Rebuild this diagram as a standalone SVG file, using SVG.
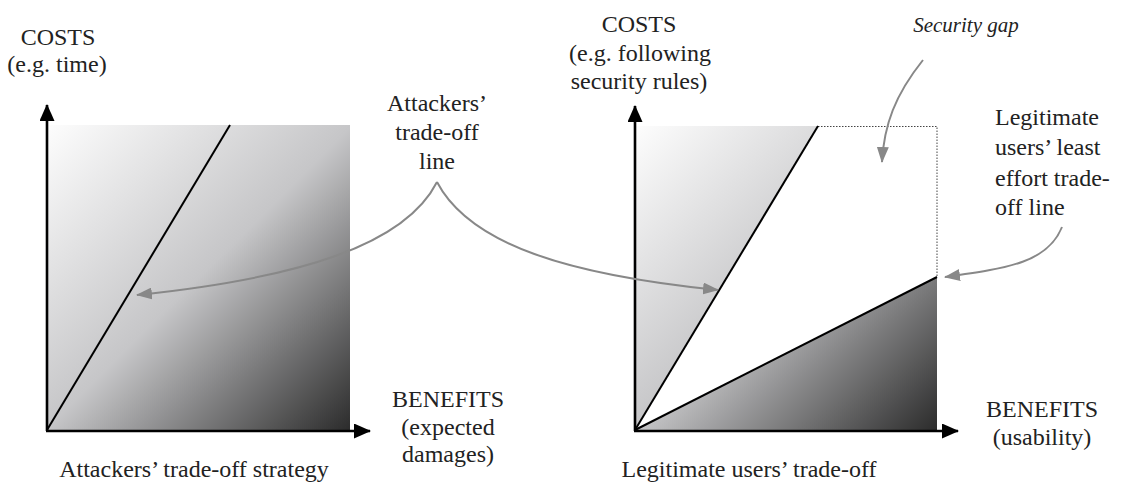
<svg xmlns="http://www.w3.org/2000/svg" width="1125" height="485" viewBox="0 0 1125 485">
<style>
text{font-family:"Liberation Serif","Times New Roman",serif;font-size:24px;fill:#222;}
.c{text-anchor:middle;}
.it{font-style:italic;font-size:21px;}
.axis{stroke:#000;stroke-width:2.6;fill:none;}
.tl{stroke:#000;stroke-width:2;fill:none;}
.dot{stroke:#444;stroke-width:1;stroke-dasharray:1.5 1.5;fill:none;}
.gc{stroke:#888;stroke-width:2;fill:none;marker-end:url(#ga);}
</style>
<defs>
<linearGradient id="g1" gradientUnits="userSpaceOnUse" x1="48" y1="125" x2="350" y2="430">
<stop offset="0" stop-color="#fdfdfd"/>
<stop offset="0.5" stop-color="#c6c6c8"/>
<stop offset="1" stop-color="#2c2c2c"/>
</linearGradient>
<linearGradient id="g2" gradientUnits="userSpaceOnUse" x1="636" y1="126" x2="937" y2="430">
<stop offset="0" stop-color="#fdfdfd"/>
<stop offset="0.5" stop-color="#c6c6c8"/>
<stop offset="1" stop-color="#2c2c2c"/>
</linearGradient>
<marker id="ba" viewBox="0 0 17 15" refX="16" refY="7.5" markerWidth="17" markerHeight="15" markerUnits="userSpaceOnUse" orient="auto">
<path d="M0,0 L17,7.5 L0,15 z" fill="#000"/>
</marker>
<marker id="ga" viewBox="0 0 16 12" refX="15" refY="6" markerWidth="16" markerHeight="12" markerUnits="userSpaceOnUse" orient="auto">
<path d="M0,0 L16,6 L0,12 z" fill="#888"/>
</marker>
</defs>

<g id="chart-attackers">
<rect x="48" y="125" width="302" height="305" fill="url(#g1)"/>
<line class="tl" x1="47" y1="430" x2="230" y2="125"/>
<path class="axis" d="M47,431 L47,105" marker-end="url(#ba)"/>
<path class="axis" d="M46,431 L370,431" marker-end="url(#ba)"/>
</g>

<g id="chart-legitimate">
<rect x="636" y="126" width="301" height="304" fill="url(#g2)"/>
<polygon points="635,430 818,126 937,126 937,277" fill="#fff"/>
<path class="dot" d="M818,126.5 L937,126.5 L937,277"/>
<line class="tl" x1="635" y1="430" x2="818" y2="126"/>
<line class="tl" x1="635" y1="430" x2="937" y2="277"/>
<path class="axis" d="M635,431 L635,106" marker-end="url(#ba)"/>
<path class="axis" d="M634,431 L958,431" marker-end="url(#ba)"/>
</g>

<g id="labels-left">
<text class="c" x="58" y="45">COSTS</text>
<text class="c" x="57" y="72">(e.g. time)</text>
<text class="c" x="448" y="407">BENEFITS</text>
<text class="c" x="448" y="435">(expected</text>
<text class="c" x="448" y="462">damages)</text>
<text class="c" x="194" y="477">Attackers’ trade-off strategy</text>
</g>

<g id="label-attackers-line">
<text class="c" x="437" y="111">Attackers’</text>
<text class="c" x="437" y="140">trade-off</text>
<text class="c" x="437" y="169">line</text>
</g>

<g id="labels-right">
<text class="c" x="639" y="32">COSTS</text>
<text class="c" x="640" y="61">(e.g. following</text>
<text class="c" x="639" y="89">security rules)</text>
<text class="c" x="1042" y="417">BENEFITS</text>
<text class="c" x="1042" y="445">(usability)</text>
<text class="c" x="749" y="477">Legitimate users’ trade-off</text>
</g>

<g id="label-security-gap">
<text class="c it" x="966" y="32">Security gap</text>
</g>

<g id="label-legit-line">
<text x="995" y="125">Legitimate</text>
<text x="995" y="155">users’ least</text>
<text x="995" y="186">effort trade-</text>
<text x="995" y="215">off line</text>
</g>

<g id="connectors">
<path class="gc" d="M437,182 C405,245 300,278 137,295"/>
<path class="gc" d="M437,182 C470,245 570,275 718,290"/>
<path class="gc" d="M923,60 C895,95 884,125 882,162"/>
<path class="gc" d="M1062,227 C1048,262 1010,268 945,277"/>
</g>
</svg>
